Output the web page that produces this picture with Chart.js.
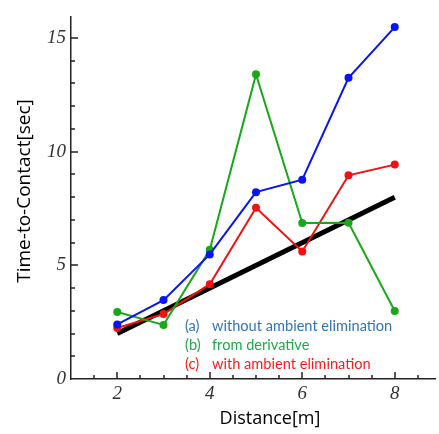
<!DOCTYPE html>
<html>
<head>
<meta charset="utf-8">
<script src="https://cdn.jsdelivr.net/npm/chart.js@4"></script>
<style>
  body { margin: 0; background: #fff; }
  #wrap { width: 439px; height: 434px; }
</style>
</head>
<body>
<div id="wrap"><canvas id="ttcChart" width="439" height="434"></canvas></div>
<script>
// values
const distance = [2, 3, 4, 5, 6, 7, 8];
const withoutAmbient = [2.4, 3.47, 5.48, 8.22, 8.77, 13.25, 15.48];
const fromDerivative = [2.95, 2.38, 5.68, 13.4, 6.86, 6.87, 2.99];
const withAmbient = [2.24, 2.86, 4.17, 7.53, 5.61, 8.96, 9.43];
const idealX = [2, 8];
const idealY = [2, 8];
const xTicks = [2, 4, 6, 8];
const yTicks = [0, 5, 10, 15];
const legendMarks = ['(a)', '(b)', '(c)'];
const legendLabels = ['without ambient elimination', 'from derivative', 'with ambient elimination'];
const legendColors = ['#2e75b6', '#1fa84a', '#ff1a1a'];

function points(xs, ys) {
    return xs.map((x, i) => ({ x: x, y: ys[i] }));
}

function series(label, ys, color) {
    return {
        label: label,
        data: points(distance, ys),
        borderColor: color,
        backgroundColor: color,
        borderWidth: 2,
        pointRadius: 4,
        pointBorderWidth: 0,
        tension: 0,
        order: 1
    };
}

// inward ticks, axis titles and the text legend
const decorations = {
    id: 'decorations',
    afterDraw(chart) {
        const ctx = chart.ctx;
        const xs = chart.scales.x;
        const ys = chart.scales.y;
        const bottom = ys.getPixelForValue(0);
        const left = xs.getPixelForValue(xs.min);

        ctx.save();
        ctx.fillStyle = '#222';
        for (let v = 1.5; v <= xs.max; v += 0.5) {
            const px = Math.round(xs.getPixelForValue(v));
            const len = xTicks.includes(v) ? 7 : 4;
            ctx.fillRect(px - 0.75, bottom - len, 1.5, len);
        }
        for (let v = 1; v <= ys.max; v += 1) {
            const py = Math.round(ys.getPixelForValue(v));
            const len = yTicks.includes(v) ? 7 : 4;
            ctx.fillRect(left, py - 0.75, len, 1.5);
        }

        ctx.fillStyle = '#000';
        ctx.font = '18px "Open Sans"';
        ctx.textAlign = 'center';
        ctx.textBaseline = 'middle';
        ctx.fillText('Distance[m]', 270, 419);
        ctx.translate(25, 191);
        ctx.rotate(-Math.PI / 2);
        ctx.font = '19px "Open Sans"';
        ctx.fillText('Time-to-Contact[sec]', 0, 0);
        ctx.restore();

        ctx.save();
        ctx.font = '14.6px Lato';
        ctx.textAlign = 'left';
        ctx.textBaseline = 'alphabetic';
        legendLabels.forEach((t, i) => {
            ctx.fillStyle = legendColors[i];
            ctx.fillText(legendMarks[i], 185, 331 + i * 19.2);
            ctx.fillText(t, 212, 331 + i * 19.2);
        });
        ctx.restore();
    }
};

const tickFont = { family: '"Liberation Serif", serif', size: 19, style: 'italic' };

const ctx = document.getElementById('ttcChart').getContext('2d');
const ttcChart = new Chart(ctx, {
    type: 'line',
    data: {
        datasets: [
            series('without ambient elimination', withoutAmbient, '#0a14f0'),
            series('from derivative', fromDerivative, '#18a818'),
            series('with ambient elimination', withAmbient, '#f21010'),
            {
                label: 'ideal',
                data: points(idealX, idealY),
                borderColor: '#000',
                borderWidth: 5,
                pointRadius: 0,
                order: 5
            }
        ]
    },
    options: {
        responsive: false,
        animation: false,
        layout: { padding: { top: 6, right: 0, left: 0, bottom: 0 } },
        scales: {
            x: {
                type: 'linear',
                min: 1,
                max: 8.87,
                afterFit: scale => { scale.height = 55; },
                afterBuildTicks: scale => { scale.ticks = xTicks.map(v => ({ value: v })); },
                grid: { display: false, drawTicks: false, tickLength: 0 },
                border: { display: true, color: '#222', width: 1.5 },
                ticks: { font: tickFont, color: '#333', padding: 4, maxRotation: 0 }
            },
            y: {
                min: 0,
                max: 15.95,
                afterFit: scale => { scale.width = 71; },
                afterBuildTicks: scale => { scale.ticks = yTicks.map(v => ({ value: v })); },
                grid: { display: false, drawTicks: false, tickLength: 0 },
                border: { display: true, color: '#222', width: 1.5 },
                ticks: { font: tickFont, color: '#333', padding: 5 }
            }
        },
        plugins: {
            legend: { display: false },
            tooltip: { enabled: false }
        }
    },
    plugins: [decorations]
});
</script>
</body>
</html>
